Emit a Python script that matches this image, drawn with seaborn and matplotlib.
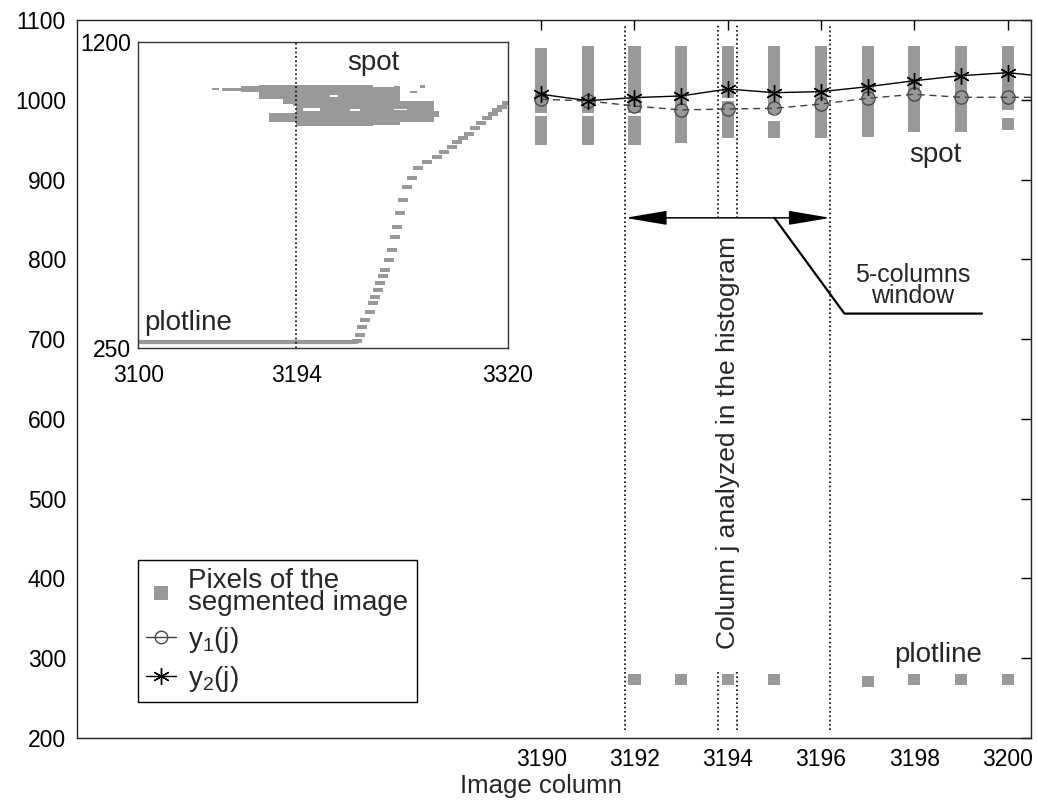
import numpy as np
import matplotlib
matplotlib.use("Agg")
import matplotlib.pyplot as plt
from matplotlib.lines import Line2D
import seaborn as sns

# ---------------------------------------------------------------- data
# image columns around the analysed column j
columns = [3190, 3191, 3192, 3193, 3194, 3195, 3196, 3197, 3198, 3199, 3200, 3201]
y1 = [1000.6, 998.5, 992.2, 987.2, 988.5, 989.3, 994.7, 1001.9, 1006.9, 1003.1, 1003.1, 1003.0]
y2 = [1006.9, 998.9, 1002.7, 1004.8, 1013.5, 1008.9, 1010.2, 1016.4, 1023.9, 1030.2, 1034.0, 1028.0]

# runs of segmented pixels belonging to the spot (column, first row, last row)
spot_col = [3190, 3190, 3191, 3191, 3192, 3192, 3193, 3194, 3194,
            3195, 3195, 3196, 3197, 3198, 3199, 3200, 3200]
spot_lo = [943, 984, 943, 984, 943, 984, 946, 952, 1002,
           952, 982, 952, 953, 959, 959, 962, 987]
spot_hi = [980, 1065, 980, 1068, 980, 1068, 1068, 998, 1068,
           973, 1068, 1068, 1067, 1067, 1067, 977, 1067]

# runs of segmented pixels belonging to the plot line
plotline_col = [3192, 3193, 3194, 3195, 3197, 3198, 3199, 3200]
plotline_lo = [266, 266, 266, 266, 264, 266, 266, 266]
plotline_hi = [280, 280, 280, 280, 278, 280, 280, 280]

# analysed column and the 5-column window around it
col_j = 3194
half_window = 2
margin = 0.2
arrow_level = 852

# overview of the segmented image (wide range of columns)
blob_x0 = [3144, 3150, 3161, 3172, 3178, 3194, 3240, 3256, 3275, 3252, 3262, 3268, 3186]
blob_x1 = [3148, 3161, 3180, 3194, 3194, 3240, 3256, 3276, 3279, 3256, 3266, 3271, 3194]
blob_lo = [1049, 1047, 1044, 1022, 952, 940, 942, 952, 966, 1056, 1040, 1058, 1000]
blob_hi = [1058, 1055, 1064, 1066, 978, 1066, 1060, 1016, 986, 1064, 1048, 1066, 1022]
# gaps inside the spot region
hole_x0 = [3198, 3226, 3252, 3186, 3214]
hole_x1 = [3208, 3232, 3260, 3192, 3219]
hole_lo = [985, 986, 988, 1002, 1030]
hole_hi = [993, 992, 992, 1008, 1035]

base_x = [3100, 3230]
base_y = [270, 270]
curve_x = [3230, 3232, 3233.5, 3235, 3238, 3240, 3241, 3242.5, 3244, 3246, 3247,
           3249, 3251, 3253, 3254.3, 3256, 3257.5, 3259.9, 3262.8, 3266.8, 3271.8,
           3277.7, 3282, 3286.7, 3290, 3293.6, 3297, 3300.5, 3304, 3307.5, 3311,
           3313.5, 3316.5, 3319.4]
curve_y = [272, 291, 315, 338, 363, 390, 410, 430, 451, 475, 492,
           523, 555, 596, 627, 668, 709, 751, 777, 808, 828,
           844, 858, 875, 888, 901, 915, 932, 948, 963, 975,
           988, 998, 1009]

# ---------------------------------------------------------------- style
sns.set_style("white")
plt.rcParams["font.family"] = ["Liberation Sans", "DejaVu Sans"]
plt.rcParams["mathtext.default"] = "regular"

GRAY = "#999999"
DOTS = (0, (1, 1.6))

fig = plt.figure(figsize=(10.37, 8), dpi=100)
ax = fig.add_axes([0.0743, 0.0775, 0.9199, 0.8975])

# spot and plot line pixel runs
ax.bar(spot_col, np.subtract(spot_hi, spot_lo), bottom=spot_lo, width=0.26,
       color=GRAY, linewidth=0, zorder=1)
ax.bar(plotline_col, np.subtract(plotline_hi, plotline_lo), bottom=plotline_lo,
       width=0.26, color=GRAY, linewidth=0, zorder=1)

# the two estimates
sns.lineplot(x=columns, y=y1, ax=ax, color="#404040", linestyle=(0, (5, 3.5)),
             linewidth=1.0, marker="o", markersize=9.5, markerfacecolor="none",
             markeredgecolor="#4a4a4a", markeredgewidth=1.0, zorder=3)
sns.lineplot(x=columns, y=y2, ax=ax, color="black", linewidth=1.0,
             marker=(6, 2, 0), markersize=12, markeredgecolor="black",
             markeredgewidth=1.0, zorder=4)

# window limits and column j limits
w_lo = col_j - half_window - margin
w_hi = col_j + half_window + margin
ax.vlines([w_lo, w_hi], 210, 1094, colors="black", linestyles=DOTS, lw=1.2, zorder=2)
ax.vlines([col_j - margin, col_j + margin], arrow_level, 1094, colors="black",
          linestyles=DOTS, lw=1.2, zorder=2)
ax.vlines([col_j - margin, col_j + margin], 210, 283, colors="black",
          linestyles=DOTS, lw=1.2, zorder=2)

ax.annotate("", xy=(w_lo, arrow_level), xytext=(w_hi, arrow_level),
            arrowprops=dict(arrowstyle="<|-|>,head_length=1.3,head_width=0.22",
                            color="black", lw=1.1, shrinkA=0, shrinkB=0,
                            mutation_scale=20), zorder=5)
ax.plot([col_j + 1.0, col_j + 2.5, col_j + 5.45], [arrow_level, 732, 732],
        color="black", lw=1.6, zorder=5)

ax.text(col_j + 3.97, 767, "5-columns\nwindow", ha="center", va="center",
        fontsize=18, linespacing=0.85)
ax.text(col_j, 570, "Column j analyzed in the histogram", rotation=90,
        ha="center", va="center", fontsize=19)
ax.text(3198.45, 931, "spot", ha="center", va="center", fontsize=20)
ax.text(3198.5, 304, "plotline", ha="center", va="center", fontsize=20)

ax.set_xlim(3180.05, 3200.5)
ax.set_ylim(200, 1100)
ax.set_xticks(np.arange(3190, 3201, 2))
ax.set_yticks(np.arange(200, 1101, 100))
ax.tick_params(direction="in", length=7, width=1, top=True, right=True,
               labelsize=16.5, pad=8, colors="black")
ax.tick_params(axis="x", pad=7)
for s in ax.spines.values():
    s.set_color("#222222")
    s.set_linewidth(1.0)
ax.set_xlabel("Image column", fontsize=18.5)
ax.xaxis.label.set_va("baseline")
ax.xaxis.set_label_coords(0.486, -0.0766)
ax.set_ylabel("")

handles = [
    Line2D([], [], linestyle="none", marker="s", markersize=10, color=GRAY,
           markeredgewidth=0),
    Line2D([], [], color="#404040", lw=1.0, marker="o", markersize=9,
           markerfacecolor="none", markeredgecolor="#4a4a4a"),
    Line2D([], [], color="black", lw=1.0, marker=(6, 2, 0), markersize=12,
           markeredgecolor="black"),
]
labels = ["Pixels of the\nsegmented image", "$y_1$(j)", "$y_2$(j)"]
leg = ax.legend(handles, labels, loc="upper left", bbox_to_anchor=(0.064, 0.248),
                fontsize=20, frameon=True, fancybox=False, edgecolor="black",
                framealpha=1, handlelength=1.05, handletextpad=0.45,
                borderpad=0.3, labelspacing=0.32, borderaxespad=0)
leg.get_frame().set_linewidth(1.0)
leg.get_texts()[0].set_linespacing(0.8)

# ---------------------------------------------------------------- overview
axins = fig.add_axes([0.1334, 0.5646, 0.3562, 0.3833])
axins.set_facecolor("white")
axins.bar(blob_x0, np.subtract(blob_hi, blob_lo), bottom=blob_lo,
          width=np.subtract(blob_x1, blob_x0), align="edge", color=GRAY,
          linewidth=0)
axins.bar(hole_x0, np.subtract(hole_hi, hole_lo), bottom=hole_lo,
          width=np.subtract(hole_x1, hole_x0), align="edge", color="white",
          linewidth=0)
sns.lineplot(x=base_x, y=base_y, ax=axins, color=GRAY, linewidth=3)
dash = [(-1.3, -0.6), (1.3, -0.6), (1.3, 0.6), (-1.3, 0.6)]
sns.scatterplot(x=curve_x, y=curve_y, ax=axins, marker=dash, s=45,
                color=GRAY, linewidth=0)
axins.axvline(col_j, color="black", linestyle=DOTS, lw=1.2)
axins.text(3240, 1133, "spot", ha="center", va="center", fontsize=20)
axins.text(3129.8, 327, "plotline", ha="center", va="center", fontsize=20)
axins.set_xlim(3100, 3320)
axins.set_ylim(250, 1200)
axins.set_xticks([3100, 3194, 3320])
axins.set_yticks([250, 1200])
axins.tick_params(length=0, labelsize=16.5, colors="black")
axins.tick_params(axis="x", pad=11)
axins.tick_params(axis="y", pad=5)
for s in axins.spines.values():
    s.set_color("#333333")
    s.set_linewidth(1.0)

fig.savefig("out.png", dpi=100)
